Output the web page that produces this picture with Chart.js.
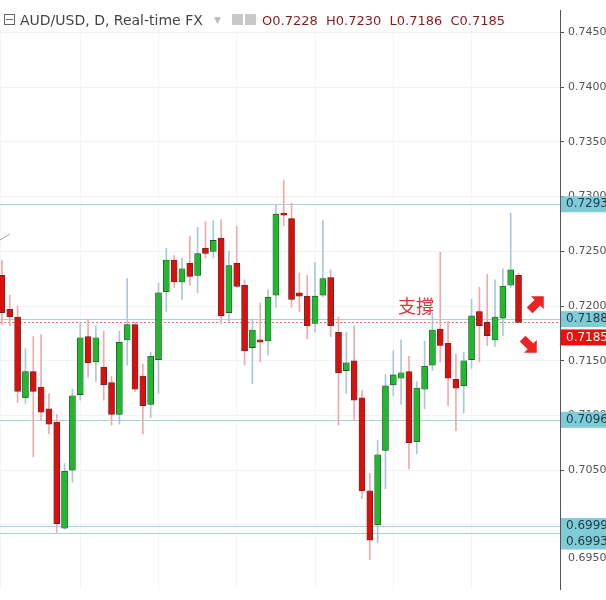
<!DOCTYPE html>
<html>
<head>
<meta charset="utf-8">
<script src="https://cdn.jsdelivr.net/npm/chart.js@4"></script>
<style>
  body { margin: 0; background: #fff; }
  #wrap { width: 606px; height: 600px; }
</style>
</head>
<body>
<div id="wrap"><canvas id="chart"></canvas></div>
<script>
'use strict'

// daily AUD/USD candles
let opens = [0.7228, 0.7197, 0.7190, 0.7116, 0.7140, 0.7126, 0.7106, 0.7094, 0.6997, 0.7050,
  0.7119, 0.7172, 0.7149, 0.7144, 0.7130, 0.7101, 0.7169, 0.7183, 0.7136, 0.7110,
  0.7151, 0.7213, 0.7242, 0.7222, 0.7239, 0.7228, 0.7253, 0.7250, 0.7262, 0.7194,
  0.7239, 0.7219, 0.7162, 0.7169, 0.7168, 0.7210, 0.7285, 0.7280, 0.7212, 0.7209,
  0.7184, 0.7210, 0.7226, 0.7176, 0.7141, 0.7150, 0.7116, 0.7031, 0.7000, 0.7068,
  0.7128, 0.7134, 0.7140, 0.7076, 0.7124, 0.7146, 0.7179, 0.7166, 0.7133, 0.7127,
  0.7151, 0.7195, 0.7185, 0.7169, 0.7189, 0.7219, 0.7228];
let highs = [0.7242, 0.7210, 0.7200, 0.7161, 0.7172, 0.7174, 0.7120, 0.7101, 0.7056, 0.7124,
  0.7185, 0.7188, 0.7182, 0.7177, 0.7136, 0.7177, 0.7225, 0.7185, 0.7147, 0.7158,
  0.7221, 0.7253, 0.7246, 0.7244, 0.7264, 0.7272, 0.7277, 0.7278, 0.7279, 0.7250,
  0.7273, 0.7224, 0.7188, 0.7203, 0.7215, 0.7293, 0.7315, 0.7294, 0.7230, 0.7228,
  0.7240, 0.7278, 0.7233, 0.7190, 0.7176, 0.7182, 0.7123, 0.7047, 0.7077, 0.7137,
  0.7159, 0.7169, 0.7154, 0.7131, 0.7168, 0.7194, 0.7249, 0.7186, 0.7156, 0.7158,
  0.7206, 0.7217, 0.7229, 0.7224, 0.7234, 0.7285, 0.7230];
let lows = [0.7183, 0.7182, 0.7112, 0.7111, 0.7062, 0.7095, 0.7083, 0.6993, 0.6996, 0.7039,
  0.7114, 0.7135, 0.7131, 0.7114, 0.7091, 0.7092, 0.7146, 0.7122, 0.7083, 0.7098,
  0.7120, 0.7195, 0.7217, 0.7206, 0.7219, 0.7212, 0.7244, 0.7244, 0.7184, 0.7186,
  0.7217, 0.7146, 0.7129, 0.7149, 0.7155, 0.7199, 0.7273, 0.7199, 0.7195, 0.7170,
  0.7176, 0.7208, 0.7172, 0.7091, 0.7120, 0.7096, 0.7024, 0.6968, 0.6984, 0.7033,
  0.7118, 0.7110, 0.7051, 0.7065, 0.7106, 0.7141, 0.7149, 0.7109, 0.7086, 0.7102,
  0.7143, 0.7149, 0.7164, 0.7163, 0.7173, 0.7217, 0.7186];
let closes = [0.7194, 0.7190, 0.7122, 0.7140, 0.7122, 0.7103, 0.7092, 0.7001, 0.7049, 0.7118,
  0.7171, 0.7148, 0.7171, 0.7128, 0.7101, 0.7167, 0.7183, 0.7124, 0.7109, 0.7154,
  0.7212, 0.7242, 0.7222, 0.7234, 0.7227, 0.7248, 0.7248, 0.7260, 0.7191, 0.7237,
  0.7218, 0.7159, 0.7178, 0.7167, 0.7208, 0.7284, 0.7283, 0.7206, 0.7209, 0.7182,
  0.7209, 0.7225, 0.7182, 0.7139, 0.7148, 0.7114, 0.7031, 0.6986, 0.7064, 0.7127,
  0.7137, 0.7139, 0.7075, 0.7125, 0.7145, 0.7178, 0.7164, 0.7134, 0.7125, 0.7150,
  0.7191, 0.7182, 0.7173, 0.7190, 0.7218, 0.7233, 0.7185];

// horizontal levels and their axis tags
let levelValues = [0.7293, 0.7188, 0.7096, 0.6999, 0.6993];
let tickValues = [0.7000, 0.7050, 0.7100, 0.7150, 0.7200, 0.7250, 0.7300, 0.7350, 0.7400, 0.7450];
let lastPrice = 0.7185;

let GREEN = '#1fb82e';
let RED = '#d8100e';

let wicks = [];
let bodies = [];
let bodyColors = [];
let wickColors = [];
for (let i = 0; i < opens.length; i++) {
  wicks.push({ x: i, y: [lows[i], highs[i]] });
  bodies.push({ x: i, y: [Math.min(opens[i], closes[i]), Math.max(opens[i], closes[i])] });
  let up = closes[i] >= opens[i];
  bodyColors.push(up ? GREEN : RED);
  wickColors.push(up ? '#a9c9d6' : '#f2a9ab');
}

// draws level lines, axis tags, header and notes
let overlay = {
  id: 'overlay',
  beforeDatasetsDraw(chart) {
    let ctx = chart.ctx;
    let y = chart.scales.y;
    let area = chart.chartArea;
    ctx.save();
    ctx.lineWidth = 1;
    ctx.strokeStyle = '#9fd3df';
    for (let v of levelValues) {
      let py = Math.round(y.getPixelForValue(v)) + 0.5;
      ctx.beginPath();
      ctx.moveTo(0, py);
      ctx.lineTo(area.right, py);
      ctx.stroke();
    }
    ctx.strokeStyle = '#f07070';
    ctx.setLineDash([2, 2]);
    let ly = Math.round(y.getPixelForValue(lastPrice)) + 0.5;
    ctx.beginPath();
    ctx.moveTo(0, ly);
    ctx.lineTo(area.right, ly);
    ctx.stroke();
    ctx.setLineDash([]);
    ctx.strokeStyle = '#9aa0c0';
    ctx.beginPath();
    ctx.moveTo(0, 240);
    ctx.lineTo(10, 234);
    ctx.stroke();
    ctx.restore();
  },
  afterDraw(chart) {
    let ctx = chart.ctx;
    let y = chart.scales.y;
    let area = chart.chartArea;
    ctx.save();
    ctx.font = '12px "DejaVu Sans"';
    ctx.textBaseline = 'middle';
    let tags = [[0.7293, 0], [0.7188, 0], [0.7096, 0], [0.6999, 0], [0.6993, 9]];
    for (let t of tags) {
      let py = y.getPixelForValue(t[0]) + t[1];
      ctx.fillStyle = '#7fcbd8';
      ctx.fillRect(area.right + 1, py - 8, 46, 16);
      ctx.fillStyle = '#1d3b46';
      ctx.fillText(t[0].toFixed(4), area.right + 6, py);
    }
    let ry = y.getPixelForValue(lastPrice) + 15;
    ctx.fillStyle = '#f20d0d';
    ctx.fillRect(area.right + 1, ry - 8, 46, 16);
    ctx.fillStyle = '#fff';
    ctx.fillText(lastPrice.toFixed(4), area.right + 6, ry);

    // bottom label as in the source
    ctx.fillStyle = '#555';
    ctx.font = '11px "DejaVu Sans"';
    ctx.fillText('0.6950', area.right + 8, 558);

    // header
    ctx.font = '14px "DejaVu Sans"';
    ctx.textBaseline = 'alphabetic';
    ctx.fillStyle = 'rgba(255,255,255,0.8)';
    ctx.fillRect(0, 8, 330, 22);
    ctx.fillStyle = '#444';
    ctx.strokeStyle = '#666';
    ctx.strokeRect(4.5, 14.5, 10, 10);
    ctx.beginPath();
    ctx.moveTo(6, 19.5);
    ctx.lineTo(13, 19.5);
    ctx.stroke();
    ctx.fillText('AUD/USD, D, Real-time FX', 20, 25);
    ctx.fillStyle = '#bbb';
    ctx.font = '9px "DejaVu Sans"';
    ctx.fillText('▼', 214, 23);
    ctx.fillStyle = '#c8c8c8';
    ctx.fillRect(232, 14, 11, 11);
    ctx.fillRect(245, 14, 11, 11);
    ctx.font = '13px "DejaVu Sans"';
    ctx.fillStyle = '#8b1a1a';
    ctx.fillText('O0.7228  H0.7230  L0.7186  C0.7185', 262, 25);

    // note and arrows
    ctx.fillStyle = '#e5323a';
    ctx.font = '18px "Noto Sans CJK TC"';
    ctx.fillText('支撐', 398, 313);
    ctx.fillStyle = '#ee2222';
    drawArrow(ctx, 536, 304, -Math.PI / 4);
    drawArrow(ctx, 529, 345, Math.PI / 4);
    ctx.restore();
  }
};

function drawArrow(ctx, x, y, ang) {
  ctx.save();
  ctx.translate(x, y);
  ctx.rotate(ang);
  ctx.beginPath();
  ctx.moveTo(-9, -4);
  ctx.lineTo(2, -4);
  ctx.lineTo(2, -9);
  ctx.lineTo(11, 0);
  ctx.lineTo(2, 9);
  ctx.lineTo(2, 4);
  ctx.lineTo(-9, 4);
  ctx.closePath();
  ctx.fill();
  ctx.restore();
}

new Chart(document.getElementById('chart'), {
  type: 'bar',
  data: {
    datasets: [
      { data: wicks, backgroundColor: wickColors, barThickness: 1, grouped: false, order: 2 },
      { data: bodies, backgroundColor: bodyColors, borderColor: '#333', borderWidth: 0.6,
        borderSkipped: false, barThickness: 6, grouped: false, order: 1 }
    ]
  },
  options: {
    responsive: true,
    maintainAspectRatio: false,
    animation: false,
    layout: { padding: 0 },
    plugins: { legend: { display: false }, tooltip: { enabled: false } },
    scales: {
      x: {
        type: 'linear', min: -0.25, max: 71.3,
        offset: false,
        display: true,
        ticks: { display: false },
        border: { display: false },
        grid: { color: '#f3f5f7', drawTicks: false, offset: false }
      },
      y: {
        position: 'right',
        min: 0.6941, max: 0.7470,
        afterBuildTicks: (axis) => { axis.ticks = tickValues.map(v => ({ value: v })); },
        afterFit: (axis) => { axis.width = 46; },
        ticks: {
          color: '#555', padding: 4,
          font: { family: 'DejaVu Sans', size: 11 },
          callback: (v) => Number(v).toFixed(4)
        },
        border: { color: '#555' },
        grid: { color: '#f0f2f4', tickLength: 4, tickColor: '#555' }
      }
    }
  },
  plugins: [overlay]
});
</script>
</body>
</html>
